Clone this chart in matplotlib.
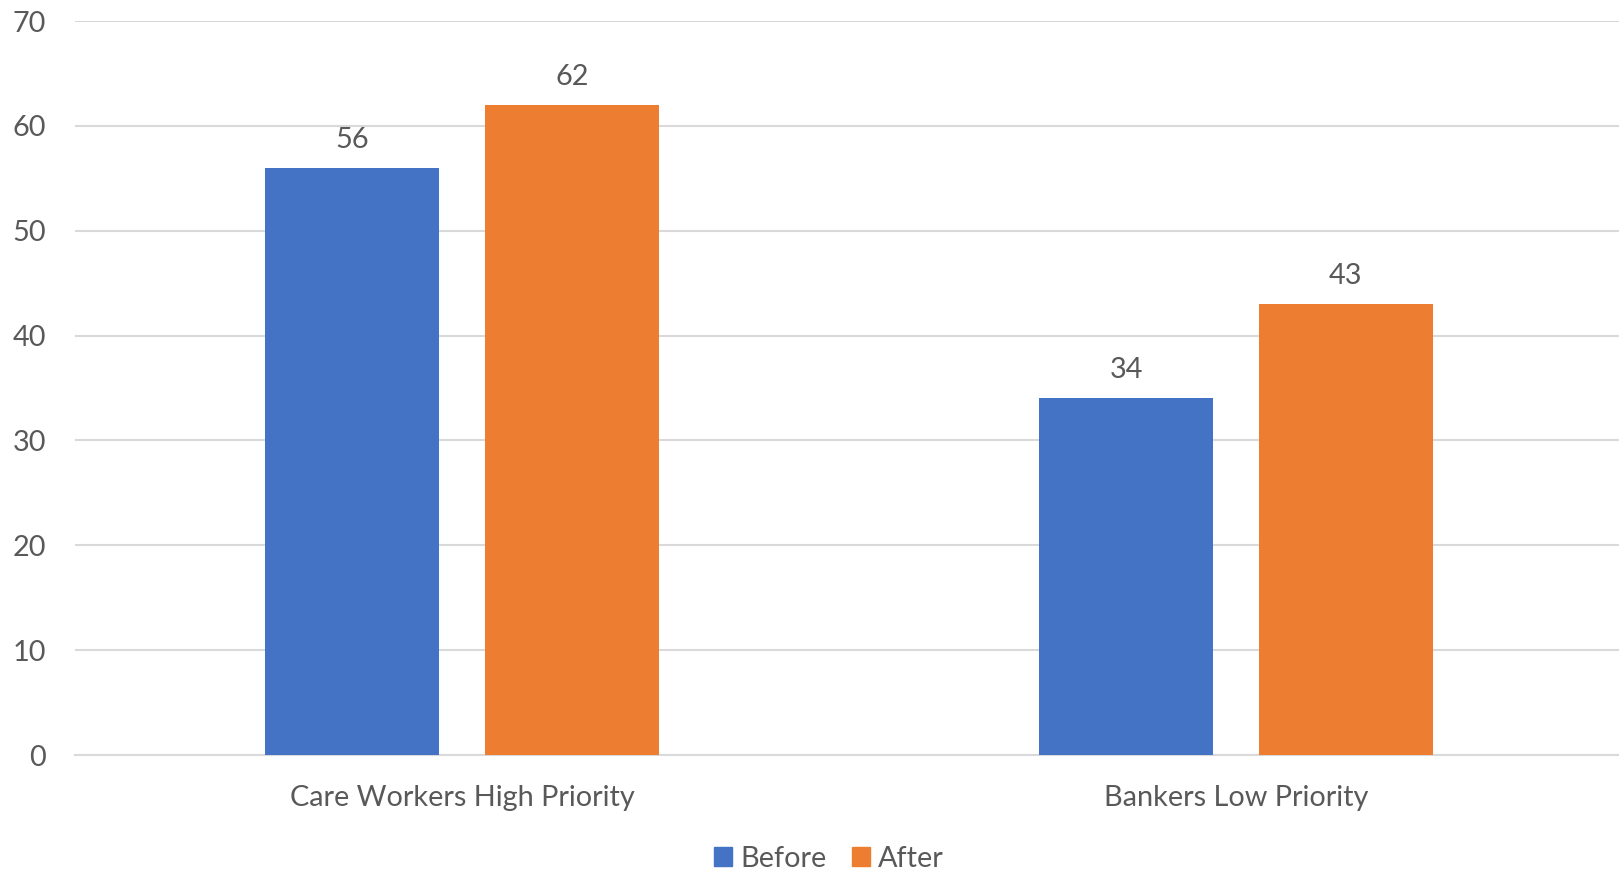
import matplotlib

matplotlib.use("Agg")
import matplotlib.pyplot as plt
import numpy as np
from matplotlib.patches import Patch

categories = ["Care Workers High Priority", "Bankers Low Priority"]
series_names = ["Before", "After"]
before = [56, 34]
after = [62, 43]
y_ticks = [0, 10, 20, 30, 40, 50, 60, 70]

colors = ["#4472C4", "#ED7D31"]
text_color = "#595959"
grid_color = "#D9D9D9"

plt.rcParams["font.family"] = ["Lato", "DejaVu Sans"]
fs = 20.8

W, H = 1619, 872
fig = plt.figure(figsize=(W / 100, H / 100), dpi=100)
ax = fig.add_axes([75 / W, 117 / H, (1623 - 75) / W, 734 / H])

x = np.arange(len(categories))
width = 0.224
offset = 0.142
for vals, name, col, sgn in [(before, series_names[0], colors[0], -1),
                             (after, series_names[1], colors[1], 1)]:
    bars = ax.bar(x + sgn * offset, vals, width, color=col, label=name, zorder=3)
    for b, v in zip(bars, vals):
        ax.annotate(str(v), (b.get_x() + b.get_width() / 2, v),
                    xytext=(0, 15), textcoords="offset pixels",
                    ha="center", va="bottom", fontsize=fs, color=text_color)

ax.set_xlim(-0.5, len(categories) - 0.5)
ax.set_ylim(0, 70)
ax.set_yticks(y_ticks)
ax.set_xticks(x)
ax.set_xticklabels(categories)
ax.yaxis.grid(True, color=grid_color, linewidth=1.5, zorder=0)
ax.tick_params(axis="both", length=0, labelsize=fs, labelcolor=text_color)
ax.tick_params(axis="y", pad=21)
ax.tick_params(axis="x", pad=21.5)
for side in ["top", "right", "left"]:
    ax.spines[side].set_visible(False)
ax.spines["bottom"].set_color(grid_color)
ax.spines["bottom"].set_linewidth(1.5)

handles = [Patch(color=c, label=n) for c, n in zip(colors, series_names)]
fig.legend(handles=handles, loc="center", bbox_to_anchor=(829 / W, 1 - 859 / H),
           ncol=2, frameon=False, fontsize=fs, labelcolor=text_color,
           handlelength=0.63, handleheight=0.63, handletextpad=0.3, columnspacing=0.85)

fig.savefig("out.png", dpi=100)
